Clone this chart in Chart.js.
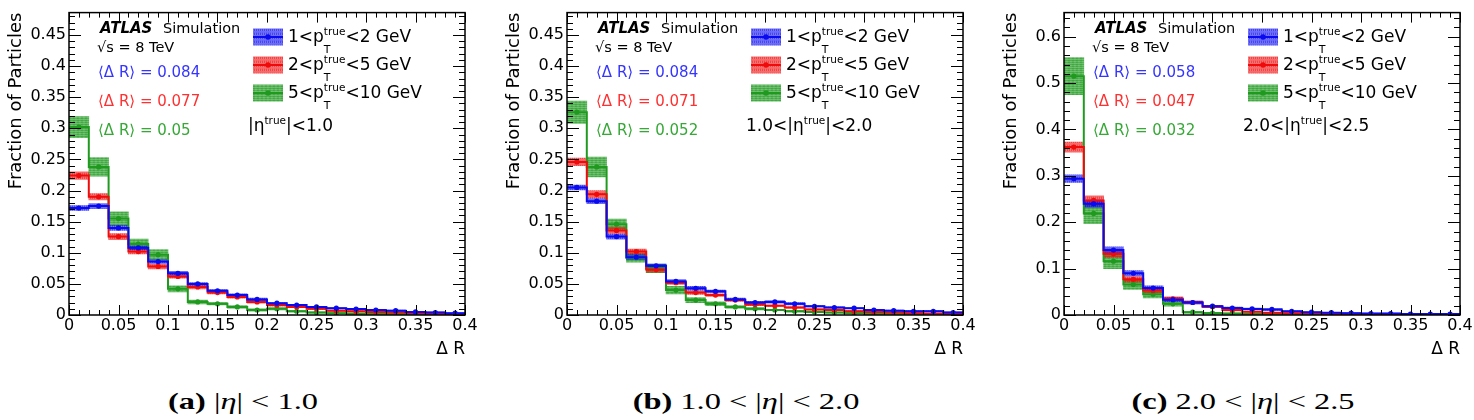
<!DOCTYPE html>
<html>
<head>
<meta charset="utf-8">
<script src="https://cdn.jsdelivr.net/npm/chart.js@4.4.1/dist/chart.umd.min.js"></script>
<style>
  body { margin: 0; background: #fff; width: 1474px; height: 420px; position: relative; overflow: hidden; }
  .panel { position: absolute; top: 0; height: 360px; }
  .cap { position: absolute; top: 387px; font-family: "Liberation Serif", "Times New Roman", serif; font-size: 24px;
         line-height: 28px; white-space: nowrap; transform: translateX(-50%) scaleX(1.35); color: #000; }
</style>
</head>
<body>
<div class="panel" style="left:0px"><canvas id="c0" width="480" height="360"></canvas></div>
<div class="panel" style="left:498px"><canvas id="c1" width="480" height="360"></canvas></div>
<div class="panel" style="left:995px"><canvas id="c2" width="479" height="360"></canvas></div>
<div class="cap" style="left:243px"><b>(a)</b> |<i>η</i>| &lt; 1.0</div>
<div class="cap" style="left:746px"><b>(b)</b> 1.0 &lt; |<i>η</i>| &lt; 2.0</div>
<div class="cap" style="left:1243px"><b>(c)</b> 2.0 &lt; |<i>η</i>| &lt; 2.5</div>
<script>
// Delta R bins (lower edges), width 0.02
const binLow = [0, 0.02, 0.04, 0.06, 0.08, 0.1, 0.12, 0.14, 0.16, 0.18, 0.2, 0.22, 0.24, 0.26, 0.28, 0.3, 0.32, 0.34, 0.36, 0.38];
const binWidth = 0.02;
const xTicks = [0, 0.05, 0.1, 0.15, 0.2, 0.25, 0.3, 0.35, 0.4];
const yTicksLow = [0, 0.05, 0.1, 0.15, 0.2, 0.25, 0.3, 0.35, 0.4, 0.45];
const yTicksHigh = [0, 0.1, 0.2, 0.3, 0.4, 0.5, 0.6];

const legendPre = ['1<p', '2<p', '5<p'];
const legendPost = ['<2 GeV', '<5 GeV', '<10 GeV'];
const etaText = [['|η', '|<1.0'], ['1.0<|η', '|<2.0'], ['2.0<|η', '|<2.5']];
const meanDR = [['0.084', '0.077', '0.05'], ['0.084', '0.071', '0.052'], ['0.058', '0.047', '0.032']];

// |eta| < 1.0
const etaA_pt1 = [0.172, 0.175, 0.140, 0.108, 0.086, 0.067, 0.050, 0.039, 0.032, 0.025, 0.019, 0.016, 0.013, 0.011, 0.0095, 0.008, 0.007, 0.005, 0.004, 0.003];
const etaA_pt2 = [0.224, 0.190, 0.126, 0.102, 0.078, 0.062, 0.045, 0.036, 0.029, 0.021, 0.016, 0.013, 0.010, 0.007, 0.006, 0.005, 0.004, 0.003, 0.002, 0.0015];
const etaA_pt5 = [0.302, 0.238, 0.155, 0.114, 0.097, 0.042, 0.021, 0.018, 0.013, 0.008, 0.010, 0.006, 0.004, 0.003, 0.002, 0.002, 0.0015, 0.001, 0.001, 0.001];
const etaA_pt1Err = [0.004, 0.004, 0.004, 0.003, 0.003, 0.003, 0.002, 0.002, 0.002, 0.002, 0.001, 0.001, 0.001, 0.001, 0.001, 0.001, 0.001, 0.001, 0.001, 0.001];
const etaA_pt2Err = [0.006, 0.005, 0.005, 0.004, 0.004, 0.003, 0.003, 0.002, 0.002, 0.002, 0.002, 0.001, 0.001, 0.001, 0.001, 0.001, 0.001, 0.001, 0.001, 0.001];
const etaA_pt5Err = [0.017, 0.015, 0.011, 0.008, 0.008, 0.005, 0.003, 0.002, 0.002, 0.002, 0.002, 0.001, 0.001, 0.001, 0.001, 0.001, 0.001, 0.001, 0.001, 0.001];

// 1.0 < |eta| < 2.0
const etaB_pt1 = [0.205, 0.183, 0.126, 0.093, 0.079, 0.054, 0.043, 0.038, 0.025, 0.020, 0.021, 0.018, 0.014, 0.012, 0.011, 0.008, 0.007, 0.006, 0.006, 0.004];
const etaB_pt2 = [0.246, 0.194, 0.136, 0.102, 0.073, 0.052, 0.036, 0.032, 0.024, 0.017, 0.015, 0.012, 0.009, 0.008, 0.006, 0.005, 0.004, 0.003, 0.002, 0.0015];
const etaB_pt5 = [0.326, 0.238, 0.146, 0.092, 0.075, 0.040, 0.024, 0.018, 0.013, 0.010, 0.008, 0.006, 0.005, 0.004, 0.003, 0.002, 0.002, 0.0015, 0.001, 0.001];
const etaB_pt1Err = [0.004, 0.004, 0.004, 0.004, 0.003, 0.003, 0.003, 0.002, 0.002, 0.002, 0.002, 0.002, 0.001, 0.001, 0.001, 0.001, 0.001, 0.001, 0.001, 0.001];
const etaB_pt2Err = [0.006, 0.006, 0.005, 0.004, 0.004, 0.003, 0.003, 0.002, 0.002, 0.002, 0.001, 0.001, 0.001, 0.001, 0.001, 0.001, 0.001, 0.001, 0.001, 0.001];
const etaB_pt5Err = [0.018, 0.016, 0.008, 0.007, 0.007, 0.006, 0.004, 0.003, 0.002, 0.002, 0.001, 0.001, 0.001, 0.001, 0.001, 0.001, 0.001, 0.001, 0.001, 0.001];

// 2.0 < |eta| < 2.5
const etaC_pt1 = [0.294, 0.240, 0.140, 0.090, 0.058, 0.033, 0.027, 0.019, 0.015, 0.013, 0.012, 0.008, 0.006, 0.005, 0.004, 0.003, 0.003, 0.002, 0.002, 0.002];
const etaC_pt2 = [0.362, 0.247, 0.132, 0.077, 0.053, 0.035, 0.027, 0.018, 0.011, 0.007, 0.005, 0.004, 0.003, 0.002, 0.002, 0.0015, 0.001, 0.001, 0.001, 0.001];
const etaC_pt5 = [0.515, 0.219, 0.116, 0.066, 0.045, 0.024, 0.006, 0.004, 0.003, 0.002, 0.002, 0.0015, 0.001, 0.001, 0.001, 0.001, 0.001, 0.0005, 0.0005, 0.0005];
const etaC_pt1Err = [0.008, 0.008, 0.007, 0.006, 0.005, 0.004, 0.003, 0.002, 0.002, 0.002, 0.002, 0.001, 0.001, 0.001, 0.001, 0.001, 0.001, 0.001, 0.001, 0.001];
const etaC_pt2Err = [0.011, 0.010, 0.008, 0.006, 0.005, 0.004, 0.003, 0.002, 0.002, 0.001, 0.001, 0.001, 0.001, 0.001, 0.001, 0.001, 0.001, 0.001, 0.001, 0.001];
const etaC_pt5Err = [0.040, 0.022, 0.016, 0.011, 0.008, 0.005, 0.002, 0.002, 0.001, 0.001, 0.001, 0.001, 0.001, 0.001, 0.001, 0.001, 0.001, 0.001, 0.001, 0.001];

const lineColors = ['#0a0af0', '#f00a0a', '#1f9a1f'];
const textColors = ['#3535ff', '#ff3030', '#35a835'];
const FONT = '"DejaVu Sans", "Liberation Sans", sans-serif';

function hatch(ctx, color, dir) {
  const c = document.createElement('canvas');
  c.width = 4; c.height = 4;
  const g = c.getContext('2d');
  g.strokeStyle = color; g.lineWidth = 1.1;
  g.beginPath();
  if (dir === 'v') {
    for (const x0 of [0.5, 2.5]) {
      g.moveTo(x0, 0); g.lineTo(x0 + 0.8, 1); g.lineTo(x0, 2); g.lineTo(x0 + 0.8, 3); g.lineTo(x0, 4);
    }
  } else {
    for (const y0 of [0.5, 2.5]) {
      g.moveTo(0, y0); g.lineTo(1, y0 + 0.8); g.lineTo(2, y0); g.lineTo(3, y0 + 0.8); g.lineTo(4, y0);
    }
  }
  g.stroke();
  return ctx.createPattern(c, 'repeat');
}

// p_T^true style label: main text, superscript "true" over subscript "T"
function drawScript(ctx, x, yb, pre, sub, post) {
  ctx.font = '17px ' + FONT;
  ctx.fillText(pre, x, yb);
  x += ctx.measureText(pre).width;
  ctx.font = '10.5px ' + FONT;
  ctx.fillText('true', x, yb - 7.5);
  const w = ctx.measureText('true').width;
  if (sub) {
    ctx.font = '11px ' + FONT;
    ctx.fillText(sub, x, yb + 11);
  }
  x += w;
  ctx.font = '17px ' + FONT;
  ctx.fillText(post, x, yb);
}

const rootDecor = {
  id: 'rootDecor',
  afterDraw(chart, args, o) {
    const { ctx, chartArea: a, scales: { x, y } } = chart;
    const fills = chart.canvas.$fills;
    ctx.save();
    ctx.strokeStyle = '#000';
    ctx.lineWidth = 1;
    ctx.beginPath();
    // x ticks (bottom and top), minor every 0.01
    for (let i = 0; i <= 40; i++) {
      const px = Math.round(x.getPixelForValue(i * 0.01)) + 0.5;
      const len = i % 5 === 0 ? 10 : 5;
      ctx.moveTo(px, a.bottom); ctx.lineTo(px, a.bottom - len);
      ctx.moveTo(px, a.top); ctx.lineTo(px, a.top + len);
    }
    // y ticks (left and right), five minor divisions per major
    const step = o.yTicks[1] / 5;
    for (let i = 0; i * step <= y.max + 1e-9; i++) {
      const py = Math.round(y.getPixelForValue(i * step)) + 0.5;
      const len = i % 5 === 0 ? 12 : 6;
      ctx.moveTo(a.left, py); ctx.lineTo(a.left + len, py);
      ctx.moveTo(a.right, py); ctx.lineTo(a.right - len, py);
    }
    ctx.stroke();
    ctx.lineWidth = 1.5;
    ctx.strokeRect(a.left, a.top, a.right - a.left, a.bottom - a.top);

    // ATLAS label block
    ctx.fillStyle = '#000';
    ctx.textBaseline = 'alphabetic';
    ctx.textAlign = 'left';
    ctx.font = 'italic bold 15px ' + FONT;
    ctx.fillText('ATLAS', 100, 33);
    ctx.font = '14.5px ' + FONT;
    ctx.fillText('Simulation', 163, 33);
    ctx.fillText('√s = 8 TeV', 97, 52);
    ctx.font = '15px ' + FONT;
    const rowY = [77, 106, 135];
    for (let k = 0; k < 3; k++) {
      ctx.fillStyle = textColors[k];
      ctx.fillText('⟨Δ R⟩ = ' + o.mean[k], 98, rowY[k]);
    }

    // legend
    const boxY = [37, 65, 93];
    for (let k = 0; k < 3; k++) {
      if (fills) {
        ctx.fillStyle = fills[k];
        ctx.fillRect(253, boxY[k] - 8.5, 30, 17);
      }
      ctx.strokeStyle = lineColors[k];
      ctx.lineWidth = 2;
      ctx.beginPath();
      ctx.moveTo(253, boxY[k]); ctx.lineTo(283, boxY[k]);
      ctx.stroke();
      ctx.fillStyle = lineColors[k];
      ctx.beginPath();
      ctx.arc(268, boxY[k], 2.8, 0, Math.PI * 2);
      ctx.fill();
      ctx.fillStyle = '#000';
      drawScript(ctx, 288, boxY[k] + 5, legendPre[k], 'T', legendPost[k]);
    }
    ctx.fillStyle = '#000';
    drawScript(ctx, 248, 131, o.eta[0], null, o.eta[1]);
    ctx.restore();
  }
};

function buildPanel(id, vals, errs, yTicks, yMax, mean, eta) {
  const canvas = document.getElementById(id);
  const ctx = canvas.getContext('2d');
  const fills = [hatch(ctx, lineColors[0], 'v'), hatch(ctx, lineColors[1], 'v'), hatch(ctx, lineColors[2], 'h')];
  canvas.$fills = fills;
  const datasets = [];
  [2, 1, 0].forEach(k => {
    datasets.push({
      type: 'bar',
      data: binLow.map((lo, i) => ({ x: lo + binWidth / 2, y: [vals[k][i] - errs[k][i], vals[k][i] + errs[k][i]] })),
      backgroundColor: fills[k],
      borderWidth: 0,
      grouped: false,
      barPercentage: 1,
      categoryPercentage: 1,
      order: 10 + k,
    });
    datasets.push({
      type: 'line',
      data: binLow.map((lo, i) => ({ x: lo, y: vals[k][i] })).concat([{ x: binLow[19] + binWidth, y: vals[k][19] }]),
      borderColor: lineColors[k],
      borderWidth: 2,
      stepped: true,
      pointRadius: 0,
      fill: false,
      order: 5 + k,
    });
    datasets.push({
      type: 'line',
      data: binLow.map((lo, i) => ({ x: lo + binWidth / 2, y: vals[k][i] })),
      showLine: false,
      pointRadius: 2.6,
      pointBorderWidth: 0,
      pointBackgroundColor: lineColors[k],
      order: k,
    });
  });

  return new Chart(ctx, {
    type: 'line',
    data: { datasets },
    options: {
      responsive: false,
      animation: false,
      layout: { padding: { top: 9, right: canvas.width - 465, left: 0, bottom: 0 } },
      plugins: {
        legend: { display: false },
        tooltip: { enabled: false },
        rootDecor: { yTicks, mean, eta },
      },
      scales: {
        x: {
          type: 'linear', min: 0, max: 0.4, offset: false,
          grid: { display: false, drawTicks: false },
          border: { display: false },
          ticks: { color: '#000', font: { family: FONT, size: 16 }, padding: 1, maxRotation: 0, autoSkip: false,
                   callback: v => String(+v.toFixed(2)) },
          title: { display: true, text: 'Δ R', align: 'end', color: '#000', font: { family: FONT, size: 17 }, padding: { top: 0, bottom: 0 } },
          afterBuildTicks: s => { s.ticks = xTicks.map(v => ({ value: v })); },
          afterFit: s => { s.height = 45; },
        },
        y: {
          min: 0, max: yMax,
          grid: { display: false, drawTicks: false },
          border: { display: false },
          ticks: { color: '#000', font: { family: FONT, size: 16 }, padding: 3,
                   callback: v => String(+v.toFixed(2)) },
          title: { display: true, text: 'Fraction of Particles', align: 'end', color: '#000', font: { family: FONT, size: 18 }, padding: { top: 6, bottom: 0 } },
          afterBuildTicks: s => { s.ticks = yTicks.map(v => ({ value: v })); },
          afterFit: s => { s.width = 69; },
        },
      },
    },
    plugins: [rootDecor],
  });
}

buildPanel('c0', [etaA_pt1, etaA_pt2, etaA_pt5], [etaA_pt1Err, etaA_pt2Err, etaA_pt5Err], yTicksLow, 0.486, meanDR[0], etaText[0]);
buildPanel('c1', [etaB_pt1, etaB_pt2, etaB_pt5], [etaB_pt1Err, etaB_pt2Err, etaB_pt5Err], yTicksLow, 0.486, meanDR[1], etaText[1]);
buildPanel('c2', [etaC_pt1, etaC_pt2, etaC_pt5], [etaC_pt1Err, etaC_pt2Err, etaC_pt5Err], yTicksHigh, 0.652, meanDR[2], etaText[2]);
</script>
</body>
</html>
